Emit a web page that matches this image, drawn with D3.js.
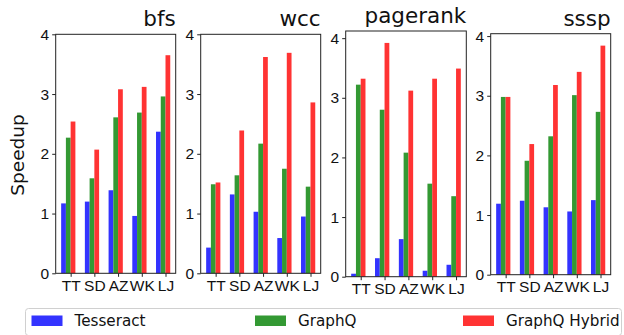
<!DOCTYPE html>
<html>
<head>
<meta charset="utf-8">
<script src="https://cdn.jsdelivr.net/npm/d3@7"></script>
<style>
  body { margin: 0; background: #fff; }
  svg { display: block; font-family: "DejaVu Sans", sans-serif; }
</style>
</head>
<body>
<div id="chart"></div>
<script>
// datasets on the x axis, one panel per algorithm
var datasets = ["TT", "SD", "AZ", "WK", "LJ"];
var algorithms = ["bfs", "wcc", "pagerank", "sssp"];
var seriesNames = ["Tesseract", "GraphQ", "GraphQ Hybrid"];

// speedup per algorithm (rows) and dataset (columns)
var tesseract = [
  [1.17, 1.20, 1.39, 0.96, 2.37],
  [0.43, 1.32, 1.03, 0.59, 0.95],
  [0.05, 0.31, 0.63, 0.10, 0.20],
  [1.19, 1.24, 1.13, 1.06, 1.25]
];
var graphq = [
  [2.27, 1.59, 2.61, 2.69, 2.96],
  [1.49, 1.64, 2.17, 1.75, 1.45],
  [3.22, 2.80, 2.08, 1.56, 1.35],
  [2.98, 1.91, 2.32, 3.01, 2.73]
];
var hybrid = [
  [2.54, 2.07, 3.08, 3.12, 3.65],
  [1.52, 2.39, 3.62, 3.69, 2.86],
  [3.32, 3.92, 3.12, 3.32, 3.49],
  [2.98, 2.19, 3.18, 3.40, 3.84]
];
var yTicks = [0, 1, 2, 3, 4];
var yTop = [4, 4, 4.12, 4.04];

var colors = ["#3333ff", "#339933", "#ff3333"];

// panel frames (left, right, top, bottom) in pixels
var frames = [
  {l: 55.7, r: 175.7, t: 34.3, b: 273.3},
  {l: 200.7, r: 320.7, t: 34.3, b: 273.3},
  {l: 345.7, r: 466.3, t: 31, b: 276.7},
  {l: 490.7, r: 610.7, t: 33.7, b: 274.7}
];

var W = 624, H = 335;
var barW = 0.2;

var svg = d3.select("#chart").append("svg")
    .attr("width", W)
    .attr("height", H);

algorithms.forEach(function(alg, k) {
  var f = frames[k];
  var x = d3.scaleLinear().domain([-0.63, 4.43]).range([f.l, f.r]);
  var y = d3.scaleLinear().domain([0, yTop[k]]).range([f.b, f.t]);

  var g = svg.append("g");
  var series = [tesseract[k], graphq[k], hybrid[k]];

  series.forEach(function(vals, s) {
    g.selectAll(null)
      .data(vals)
      .enter().append("rect")
        .attr("x", function(d, i) { return x(i - 0.4 + s * barW); })
        .attr("width", x(barW) - x(0))
        .attr("y", function(d) { return y(d); })
        .attr("height", function(d) { return y(0) - y(d); })
        .attr("fill", colors[s]);
  });

  // axes
  var xAxis = g.append("g")
      .attr("transform", "translate(0," + f.b + ")")
      .call(d3.axisBottom(x)
        .tickValues(d3.range(datasets.length))
        .tickFormat(function(i) { return datasets[i]; })
        .tickSize(3.5).tickPadding(3));
  var yAxis = g.append("g")
      .attr("transform", "translate(" + f.l + ",0)")
      .call(d3.axisLeft(y).tickValues(yTicks).tickFormat(d3.format("d"))
        .tickSize(3.5).tickPadding(3));

  [xAxis, yAxis].forEach(function(a) {
    a.select(".domain").remove();
    a.selectAll(".tick line").attr("stroke", "#222").attr("stroke-width", 1);
    a.selectAll(".tick text").attr("fill", "#111")
      .style("font-size", "15.5px");
  });

  // frame
  g.append("rect")
    .attr("x", f.l).attr("y", f.t)
    .attr("width", f.r - f.l).attr("height", f.b - f.t)
    .attr("fill", "none").attr("stroke", "#222").attr("stroke-width", 1);

  // title, right aligned
  g.append("text")
    .attr("x", f.r).attr("y", f.t - 8)
    .attr("text-anchor", "end")
    .style("font-size", "21.5px")
    .attr("fill", "#111")
    .text(alg);
});

// y label
svg.append("text")
  .attr("transform", "translate(24,155) rotate(-90)")
  .attr("text-anchor", "middle")
  .style("font-size", "18.5px")
  .attr("fill", "#111")
  .text("Speedup");

// legend
var leg = svg.append("g");
leg.append("rect")
  .attr("x", 25.5).attr("y", 308.5)
  .attr("width", 596).attr("height", 27)
  .attr("rx", 3)
  .attr("fill", "#fff").attr("stroke", "#d0d0d0").attr("stroke-width", 1);

var legX = [31.5, 255, 463];
seriesNames.forEach(function(name, s) {
  leg.append("rect")
    .attr("x", legX[s]).attr("y", 315.5)
    .attr("width", 31).attr("height", 10.5)
    .attr("fill", colors[s]);
  leg.append("text")
    .attr("x", legX[s] + 43).attr("y", 326)
    .style("font-size", "15.2px")
    .attr("fill", "#111")
    .text(name);
});
</script>
</body>
</html>
